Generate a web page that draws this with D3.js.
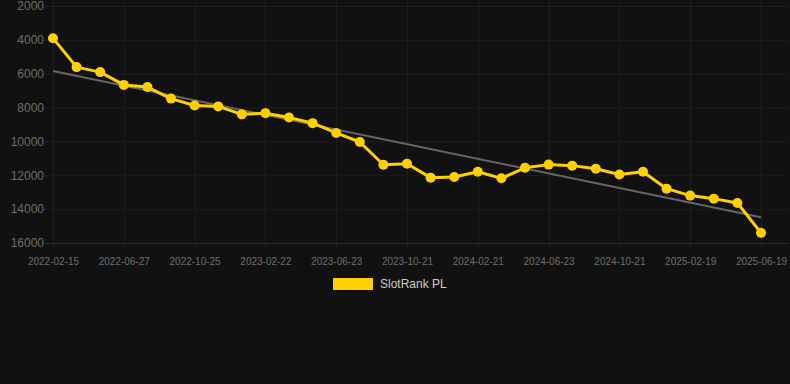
<!DOCTYPE html>
<html>
<head>
<meta charset="utf-8">
<script src="https://cdn.jsdelivr.net/npm/d3@7/dist/d3.min.js"></script>
<style>
  html, body { margin: 0; padding: 0; background: #111111; }
  #chart { width: 790px; height: 384px; }
  text { font-family: "Liberation Sans", Arial, sans-serif; }
</style>
</head>
<body>
<div id="chart"></div>
<script>
// 数据
const dates = [
  '2022-02-15', '2022-03-29', '2022-05-13', '2022-06-27', '2022-08-05', '2022-09-15',
  '2022-10-25', '2022-12-03', '2023-01-12', '2023-02-22', '2023-04-02', '2023-05-13',
  '2023-06-23', '2023-08-01', '2023-09-11', '2023-10-21', '2023-12-01', '2024-01-11',
  '2024-02-21', '2024-04-01', '2024-05-12', '2024-06-23', '2024-08-01', '2024-09-11',
  '2024-10-21', '2024-12-01', '2025-01-10', '2025-02-19', '2025-03-30', '2025-05-10',
  '2025-06-19'
];
const rankValues = [
  3900, 5610, 5905, 6660, 6790, 7470, 7880, 7930, 8400, 8330, 8590, 8920,
  9500, 10035, 11380, 11320, 12140, 12100, 11790, 12180, 11560, 11370, 11430,
  11610, 11950, 11790, 12790, 13200, 13380, 13640, 15400
];
const yTicks = [2000, 4000, 6000, 8000, 10000, 12000, 14000, 16000];
const seriesName = 'SlotRank PL';

function createChart(container) {
    d3.select(container).selectAll('*').remove();

    const width = 790;
    const height = 384;

    const svg = d3.select(container)
        .append('svg')
        .attr('width', width)
        .attr('height', height);

    // 比例尺
    const x = d3.scalePoint().domain(dates).range([53, 761]);
    const y = d3.scaleLinear().domain([2000, 16000]).range([6, 243]);

    const shownDates = dates.filter((d, i) => i % 3 === 0);

    // 网格
    const grid = svg.append('g');
    grid.selectAll('line.h')
        .data(yTicks)
        .enter()
        .append('line')
        .attr('x1', 44)
        .attr('x2', 789)
        .attr('y1', d => y(d) + 0.5)
        .attr('y2', d => y(d) + 0.5)
        .attr('stroke', d => d === 16000 ? '#2b2b2b' : '#1e1e1e')
        .attr('stroke-width', 1);
    grid.selectAll('line.v')
        .data(shownDates)
        .enter()
        .append('line')
        .attr('x1', d => Math.round(x(d)) + 0.5)
        .attr('x2', d => Math.round(x(d)) + 0.5)
        .attr('y1', 0)
        .attr('y2', 249)
        .attr('stroke', '#1e1e1e')
        .attr('stroke-width', 1);

    // 坐标轴
    const yAxis = svg.append('g')
        .attr('transform', 'translate(44,0)')
        .call(d3.axisLeft(y).tickValues(yTicks).tickSize(0).tickPadding(0).tickFormat(d3.format('d')));
    yAxis.select('.domain').remove();
    yAxis.selectAll('text')
        .attr('fill', '#6e6e6e')
        .style('font-size', '12px');

    const xAxis = svg.append('g')
        .attr('transform', 'translate(0,249)')
        .call(d3.axisBottom(x).tickValues(shownDates).tickSize(0).tickPadding(9));
    xAxis.select('.domain').remove();
    xAxis.selectAll('text')
        .attr('fill', '#6e6e6e')
        .style('font-size', '10px');

    // 趋势线 (最小二乘)
    const n = rankValues.length;
    const meanI = d3.mean(rankValues, (v, i) => i);
    const meanV = d3.mean(rankValues);
    const slope = d3.sum(rankValues, (v, i) => (i - meanI) * (v - meanV)) /
        d3.sum(rankValues, (v, i) => (i - meanI) * (i - meanI));
    const icpt = meanV - slope * meanI;
    svg.append('line')
        .attr('x1', x(dates[0]))
        .attr('y1', y(icpt))
        .attr('x2', x(dates[n - 1]))
        .attr('y2', y(icpt + slope * (n - 1)))
        .attr('stroke', '#666666')
        .attr('stroke-width', 2);

    // 折线
    const line = d3.line()
        .x((v, i) => x(dates[i]))
        .y(v => y(v));
    svg.append('path')
        .datum(rankValues)
        .attr('d', line)
        .attr('fill', 'none')
        .attr('stroke', '#ffd000')
        .attr('stroke-width', 3)
        .attr('stroke-linejoin', 'round');

    svg.append('g')
        .selectAll('circle')
        .data(rankValues)
        .enter()
        .append('circle')
        .attr('cx', (v, i) => x(dates[i]))
        .attr('cy', v => y(v))
        .attr('r', 5)
        .attr('fill', '#ffd000');

    // 图例
    const legend = svg.append('g');
    legend.append('rect')
        .attr('x', 333)
        .attr('y', 278)
        .attr('width', 40)
        .attr('height', 12)
        .attr('fill', '#ffd000');
    legend.append('text')
        .attr('x', 380)
        .attr('y', 284)
        .attr('dy', '0.35em')
        .attr('fill', '#cccccc')
        .style('font-size', '12px')
        .text(seriesName);
}

createChart(document.getElementById('chart'));
</script>
</body>
</html>
